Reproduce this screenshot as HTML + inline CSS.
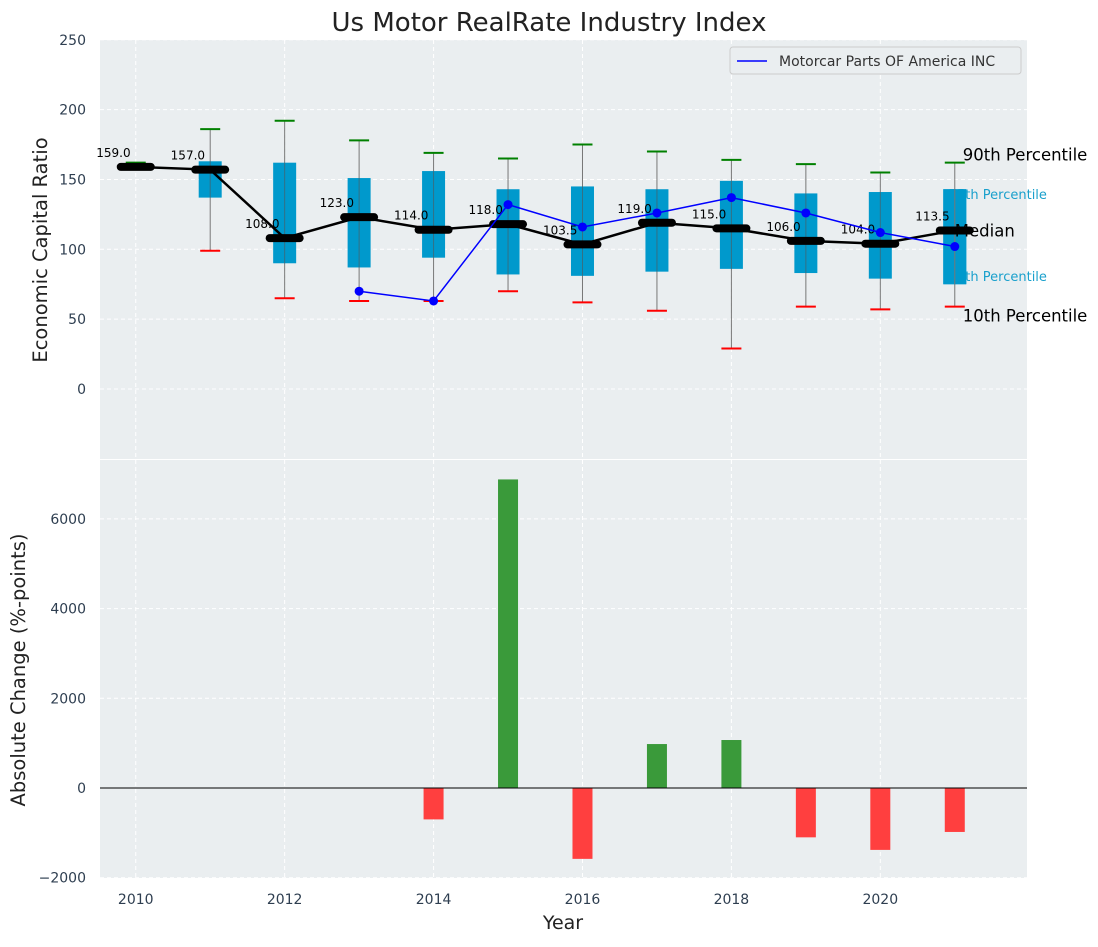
<!DOCTYPE html>
<html><head><meta charset="utf-8"><style>
body{margin:0;background:#fff;font-family:"Liberation Sans","DejaVu Sans",sans-serif}
svg text{font-family:"DejaVu Sans","Liberation Sans",sans-serif}
</style></head><body>
<svg id="c" width="1098" height="942" xmlns="http://www.w3.org/2000/svg"></svg>
<script>
const years=[2010,2011,2012,2013,2014,2015,2016,2017,2018,2019,2020,2021];
const p10=[159,99,65,63,63,70,62,56,29,59,57,59];
const q1=[158,137,90,87,94,82,81,84,86,83,79,75];
const median=[159,157,108,123,114,118,103.5,119,115,106,104,113.5];
const q3=[160,163,162,151,156,143,145,143,149,140,141,143];
const p90=[162,186,192,178,169,165,175,170,164,161,155,162];
const companyYears=[2013,2014,2015,2016,2017,2018,2019,2020,2021];
const companyValues=[70,63,132,116,126,137,126,112,102];
const changeYears=[2014,2015,2016,2017,2018,2019,2020,2021];
const changeValues=[-700,6880,-1580,980,1070,-1100,-1380,-980];
const topTicks=[0,50,100,150,200,250];
const botTicks=[-2000,0,2000,4000,6000];
const xTicks=[2010,2012,2014,2016,2018,2020];

const svg=document.getElementById('c');const NS='http://www.w3.org/2000/svg';
function el(t,a,txt){const e=document.createElementNS(NS,t);for(const k in a)e.setAttribute(k,a[k]);if(txt!==undefined)e.textContent=txt;svg.appendChild(e);return e;}
const L=100,R=1027;
const X=v=>L+(v-2009.52)*(R-L)/(2021.97-2009.52);
const YT=v=>389-v*1.397;
const YB=v=>788-v*(89.7/2000);

let e;
e=el('rect',{x:L,y:40,width:R-L,height:419,fill:'#eaeef0'});

e=el('rect',{x:L,y:460,width:R-L,height:418,fill:'#eaeef0'});

xTicks.forEach(t=>{
 el('line',{x1:X(t),x2:X(t),y1:40,y2:459,stroke:'#fff','stroke-dasharray':'4,3','stroke-width':1});
 el('line',{x1:X(t),x2:X(t),y1:460,y2:878,stroke:'#fff','stroke-dasharray':'4,3','stroke-width':1});
 e=el('text',{x:X(t),y:904,'text-anchor':'middle','font-size':14,fill:'#2e3e50'},t);
 
});
topTicks.forEach(t=>{
 el('line',{x1:L,x2:R,y1:YT(t),y2:YT(t),stroke:'#fff','stroke-dasharray':'4,3'});
 e=el('text',{x:86,y:YT(t)+5,'text-anchor':'end','font-size':14,fill:'#2e3e50'},t);
 
});
botTicks.forEach(t=>{
 el('line',{x1:L,x2:R,y1:YB(t),y2:YB(t),stroke:'#fff','stroke-dasharray':'4,3'});
 e=el('text',{x:86,y:YB(t)+5,'text-anchor':'end','font-size':14,fill:'#2e3e50'},(t<0?'\u2212'+(-t):t));
 
});
years.forEach((y,i)=>{
 const x=X(y);
 e=el('line',{x1:x,x2:x,y1:YT(p10[i]),y2:YT(p90[i]),stroke:'#777','stroke-width':1});
 
 e=el('rect',{x:x-11.5,y:YT(q3[i]),width:23,height:Math.max(1,YT(q1[i])-YT(q3[i])),fill:'#0099cc'});
 
 el('line',{x1:x,x2:x,y1:YT(q3[i]),y2:YT(q1[i]),stroke:'#555','stroke-width':1,opacity:0.6});
 e=el('line',{x1:x-10,x2:x+10,y1:YT(p90[i]),y2:YT(p90[i]),stroke:'green','stroke-width':2});
 
 e=el('line',{x1:x-10,x2:x+10,y1:YT(p10[i]),y2:YT(p10[i]),stroke:'red','stroke-width':2});
 
});
const lx=X(2021);
[['75th Percentile',YT(q3[11])+10,13,'#1aa0cc',lx-6],['25th Percentile',YT(q1[11])-3,13,'#1aa0cc',lx-6]].forEach(a=>{
 e=el('text',{x:a[4],y:a[1],'font-size':a[2],fill:a[3]},a[0]);
 
});
{const x=X(2021);el('rect',{x:x-11.5,y:YT(q3[11]),width:23,height:YT(q1[11])-YT(q3[11]),fill:'#0099cc'});
 el('line',{x1:x,x2:x,y1:YT(q3[11]),y2:YT(q1[11]),stroke:'#777'});}
[['90th Percentile',YT(p90[11])-2,16.5,'#000',lx+8],['Median',YT(median[11])+6,16.5,'#000',lx],['10th Percentile',YT(p10[11])+15,16.5,'#000',lx+8]].forEach(a=>{
 e=el('text',{x:a[4],y:a[1],'font-size':a[2],fill:a[3]},a[0]);
 
});
e=el('polyline',{points:years.map((y,i)=>X(y)+','+YT(median[i])).join(' '),fill:'none',stroke:'#000','stroke-width':2.5});

years.forEach((y,i)=>{
 e=el('line',{x1:X(y)-15,x2:X(y)+15,y1:YT(median[i]),y2:YT(median[i]),stroke:'#000','stroke-width':8,'stroke-linecap':'round'});
 
 e=el('text',{x:X(y-0.3),y:YT(median[i])-10,'text-anchor':'middle','font-size':12,fill:'#000'},median[i].toFixed(1));
 
});
e=el('polyline',{points:companyYears.map((y,i)=>X(y)+','+YT(companyValues[i])).join(' '),fill:'none',stroke:'blue','stroke-width':1.5});

companyYears.forEach((y,i)=>{
 e=el('circle',{cx:X(y),cy:YT(companyValues[i]),r:4.5,fill:'blue'});
 
});
e=el('rect',{x:730,y:47,width:291,height:27,fill:'#eaeef0',stroke:'#ccc',rx:3});

el('line',{x1:737,x2:767,y1:61,y2:61,stroke:'blue','stroke-width':1.5});
e=el('text',{x:779,y:66,'font-size':14,fill:'#333'},'Motorcar Parts OF America INC');

changeYears.forEach((y,i)=>{
 const v=changeValues[i];
 e=el('rect',{x:X(y)-10,y:Math.min(YB(v),YB(0)),width:20,height:Math.abs(YB(v)-YB(0)),fill:v>=0?'#3a9a3a':'#ff3f3f'});
 
});
el('line',{x1:L,x2:R,y1:YB(0),y2:YB(0),stroke:'#000','stroke-width':1});
e=el('text',{x:549,y:31,'text-anchor':'middle','font-size':26,fill:'#222'},'Us Motor RealRate Industry Index');

e=el('text',{x:563,y:929,'text-anchor':'middle','font-size':19,fill:'#222'},'Year');

e=el('text',{x:47,y:250,'text-anchor':'middle','font-size':19.5,fill:'#222',transform:'rotate(-90 47 250)'},'Economic Capital Ratio');

e=el('text',{x:25,y:670,'text-anchor':'middle','font-size':19.5,fill:'#222',transform:'rotate(-90 25 670)'},'Absolute Change (%-points)');

</script>
</body></html>
